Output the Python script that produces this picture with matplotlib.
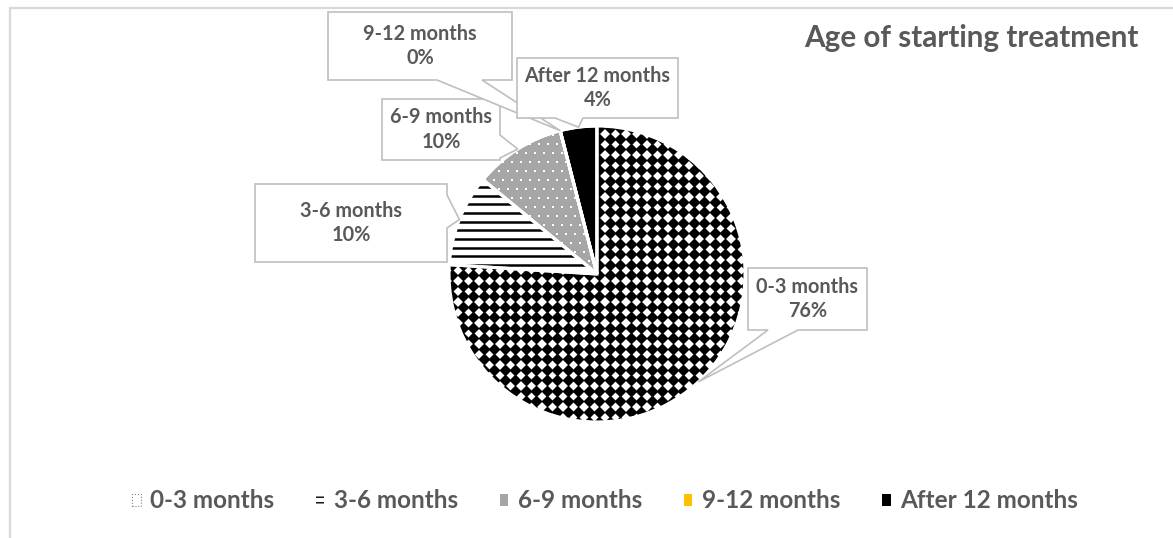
import numpy as np
import matplotlib
matplotlib.use("Agg")
import matplotlib.pyplot as plt
from matplotlib.patches import Patch, Polygon, Wedge

# Datos del grafico
categories = ["0-3 months", "3-6 months", "6-9 months", "9-12 months", "After 12 months"]
shares = [76, 10, 10, 0, 4]
legend_colors = ["white", "white", "#a5a5a5", "#ffc000", "black"]
title = "Age of starting treatment"

W, H = 1173, 538
TEXT = "#595959"
BOX_EDGE = "#bfbfbf"
FONT = "Lato"

fig = plt.figure(figsize=(W / 100, H / 100), dpi=100)
ax = fig.add_axes([0, 0, 1, 1])

cx, cy, r = 597, 274, 148
wedges, _ = ax.pie(shares, startangle=-90, counterclock=True, center=(cx, cy), radius=r,
                   colors=["white", "white", "#a6a6a6", "#ffc000", "black"],
                   wedgeprops=dict(edgecolor="white", linewidth=2.2))
ax.set_xlim(0, W)
ax.set_ylim(H, 0)
ax.set_aspect("equal")
ax.axis("off")

# Relleno de rombos para 0-3 meses
step = 10.5
gx, gy = np.meshgrid(np.arange(cx - r, cx + r + step, step) + 3,
                     np.arange(cy - r, cy + r + step, step) + 2)
sc = ax.scatter(gx.ravel(), gy.ravel(), marker="D", s=38, c="black", linewidths=0, zorder=3)
sc.set_clip_path(wedges[0])

# Rayado horizontal para 3-6 meses
for yy in np.arange(cy - r, cy + 4, 8.7):
    ln, = ax.plot([cx - r - 5, cx + 5], [yy, yy], color="black", lw=1.8, zorder=3,
                  solid_capstyle="butt")
    ln.set_clip_path(wedges[1])

# Puntos blancos para 6-9 meses
dstep = 9.0
pts = []
for j, yy in enumerate(np.arange(cy - r, cy + dstep, dstep)):
    off = (dstep / 2) * (j % 2)
    for xx in np.arange(cx - r, cx + dstep, dstep):
        pts.append((xx + off, yy))
pts = np.array(pts)
dots = ax.scatter(pts[:, 0], pts[:, 1], marker="s", s=2.5, c="white", linewidths=0, zorder=3)
dots.set_clip_path(wedges[2])

# Bordes blancos encima de los rellenos
for w in wedges:
    ax.add_patch(Wedge(w.center, w.r, w.theta1, w.theta2, fill=False,
                       edgecolor="white", linewidth=2.2, zorder=4))

# Cajas de etiquetas con puntero
boxes = {
    "0-3 months": ((748, 268, 867, 330), "bottom", (768, 798)),
    "3-6 months": ((255, 184, 447, 262), "right", (195, 228)),
    "6-9 months": ((382, 99, 500, 160), "right", (135, 158)),
    "9-12 months": ((328, 12, 512, 80), "bottom", (437, 482)),
    "After 12 months": ((517, 58, 678, 118), "bottom", (555, 583)),
}


def callout(ax, box, side, base, tip, text):
    x0, y0, x1, y1 = box
    if side == "bottom":
        verts = [(x0, y0), (x1, y0), (x1, y1), (base[1], y1), tip, (base[0], y1), (x0, y1)]
    else:
        verts = [(x0, y0), (x1, y0), (x1, base[0]), tip, (x1, base[1]), (x1, y1), (x0, y1)]
    ax.add_patch(Polygon(verts, closed=True, facecolor="white", edgecolor=BOX_EDGE,
                         linewidth=1.2, zorder=5))
    ax.text((x0 + x1) / 2, (y0 + y1) / 2, text, ha="center", va="center",
            fontsize=14.3, fontweight="bold", color=TEXT, family=FONT,
            linespacing=1.3, zorder=6)


for w, name, val in zip(wedges, categories, shares):
    mid = np.deg2rad((w.theta1 + w.theta2) / 2)
    tip = (cx + r * np.cos(mid), cy + r * np.sin(mid))
    box, side, base = boxes[name]
    callout(ax, box, side, base, tip, f"{name}\n{val}%")

ax.text(971, 38, title, ha="center", va="center", fontsize=21.3, fontweight="bold",
        color=TEXT, family=FONT)

# Marco del grafico (superior e izquierdo)
ax.plot([10, W], [8, 8], color="#d9d9d9", lw=1.6, clip_on=False)
ax.plot([10, 10], [8, H], color="#d9d9d9", lw=1.6, clip_on=False)

# Leyenda
handles = [
    Patch(facecolor="white", edgecolor="#7f7f7f", linestyle=":", linewidth=0.8),
    Patch(facecolor="white", edgecolor="black", hatch="---", linewidth=0),
    Patch(facecolor=legend_colors[2], edgecolor="none"),
    Patch(facecolor=legend_colors[3], edgecolor="none"),
    Patch(facecolor=legend_colors[4], edgecolor="none"),
]
leg = ax.legend(handles, categories, loc="center", bbox_to_anchor=(605, 501),
                bbox_transform=ax.transData, ncol=5, frameon=False,
                handlelength=0.36, handleheight=0.36, handletextpad=0.4,
                columnspacing=1.7, prop=dict(family=FONT, weight="bold", size=17.5))
for t in leg.get_texts():
    t.set_color(TEXT)

fig.savefig("out.png", dpi=100, facecolor="white")
